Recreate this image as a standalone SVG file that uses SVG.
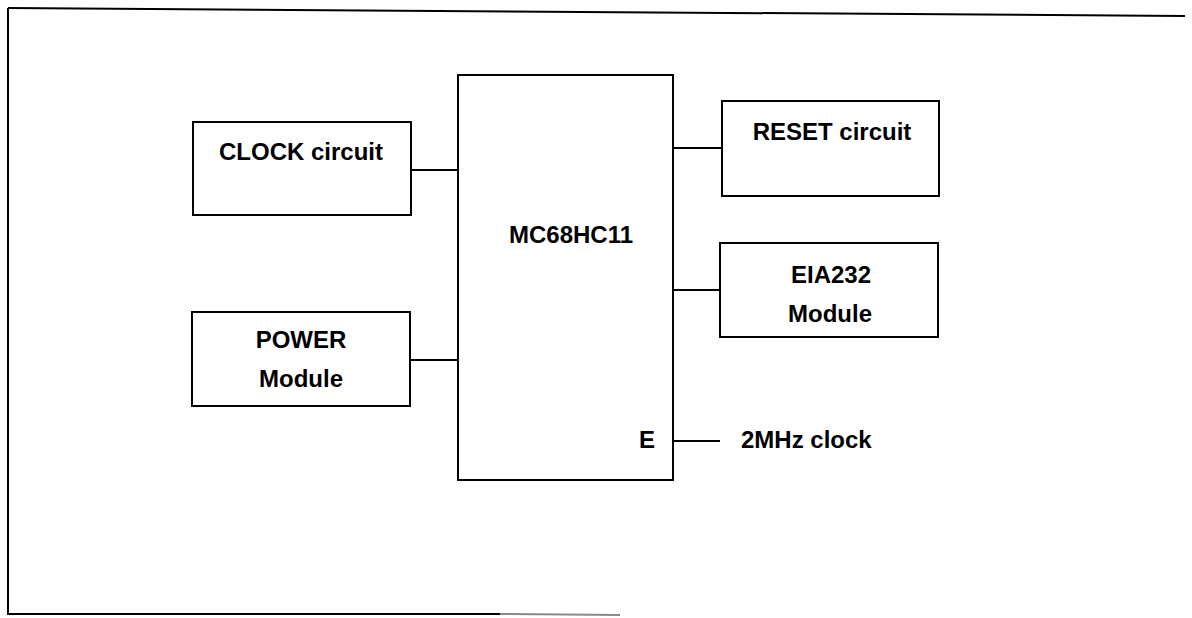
<svg xmlns="http://www.w3.org/2000/svg" width="1192" height="618" viewBox="0 0 1192 618">
<style>
.box{fill:#fff;stroke:#000;stroke-width:2}
.ln{stroke:#000;stroke-width:2;fill:none}
.t{font-family:"Liberation Sans",Arial,sans-serif;font-weight:bold;font-size:24px;fill:#000;text-anchor:middle}
.s{text-anchor:start}
</style>
<rect width="1192" height="618" fill="#fff"/>
<g id="frame">
<path class="ln" d="M8,8 L1185,16"/>
<path class="ln" d="M8,8 L8,614 L500,614"/>
<path d="M500,614 L620,615" stroke="#888" stroke-width="2"/>
</g>
<g id="connectors">
<path class="ln" d="M411,170 L458,170"/>
<path class="ln" d="M410,360 L458,360"/>
<path class="ln" d="M673,148 L722,148"/>
<path class="ln" d="M673,290 L720,290"/>
<path class="ln" d="M673,441 L720,441"/>
</g>
<g id="clock">
<rect class="box" x="193" y="122" width="218" height="93"/>
<text class="t" x="301" y="160">CLOCK circuit</text>
</g>
<g id="power">
<rect class="box" x="192" y="312" width="218" height="94"/>
<text class="t" x="301" y="348">POWER</text>
<text class="t" x="301" y="387">Module</text>
</g>
<g id="mc">
<rect class="box" x="458" y="75" width="215" height="405"/>
<text class="t" x="571" y="243">MC68HC11</text>
<text class="t s" x="639" y="448">E</text>
</g>
<g id="reset">
<rect class="box" x="722" y="101" width="217" height="95"/>
<text class="t" x="832" y="140">RESET circuit</text>
</g>
<g id="eia">
<rect class="box" x="720" y="243" width="218" height="94"/>
<text class="t" x="831" y="283">EIA232</text>
<text class="t" x="830" y="322">Module</text>
</g>
<g id="label">
<text class="t s" x="741" y="448">2MHz clock</text>
</g>
</svg>
